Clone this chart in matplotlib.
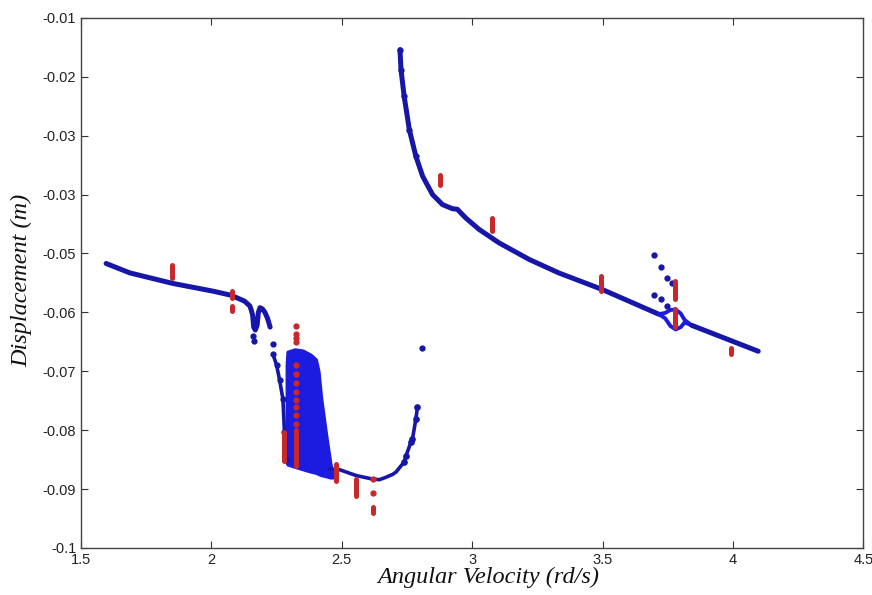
import matplotlib
matplotlib.use("Agg")
import matplotlib.pyplot as plt
import numpy as np

# ---- data ----
# left branch (dense blue points)
left_x = [1.596, 1.687, 1.853, 2.006, 2.076, 2.127, 2.147, 2.152, 2.158, 2.162, 2.168, 2.175, 2.180, 2.186, 2.195, 2.205, 2.215, 2.225]
left_y = [-0.0517, -0.0533, -0.0551, -0.0564, -0.0571, -0.0581, -0.0589, -0.0595, -0.0605, -0.0625, -0.0630, -0.0622, -0.0600, -0.0592, -0.0594, -0.0600, -0.0610, -0.0625]

# descending strand into the chaotic band
strand_x = [2.236, 2.250, 2.261, 2.274, 2.280, 2.287]
strand_y = [-0.0671, -0.0690, -0.0714, -0.0747, -0.0803, -0.0849]

# chaotic band (outline of the filled blob)
blob_x = [2.289, 2.292, 2.32, 2.35, 2.38, 2.40, 2.41, 2.42, 2.44, 2.455, 2.465]
blob_top = [-0.0690, -0.0667, -0.0663, -0.0665, -0.0672, -0.0680, -0.0700, -0.0745, -0.0810, -0.0855, -0.0877]
blob_bot = [-0.0855, -0.0858, -0.0862, -0.0866, -0.0870, -0.0872, -0.0874, -0.0876, -0.0878, -0.0880, -0.0880]

# bottom "U" after the band
u_x = [2.453, 2.491, 2.555, 2.618, 2.644, 2.669, 2.695, 2.708, 2.739, 2.746, 2.765, 2.771, 2.784, 2.790]
u_y = [-0.0866, -0.0867, -0.0877, -0.0883, -0.0884, -0.0880, -0.0875, -0.0871, -0.0854, -0.0844, -0.0820, -0.0815, -0.0781, -0.0761]

# right branch
right_x = [2.723, 2.727, 2.739, 2.759, 2.784, 2.810, 2.848, 2.886, 2.924, 2.943, 2.976, 3.026, 3.103, 3.218, 3.332, 3.498, 3.715]
right_y = [-0.0154, -0.0188, -0.0233, -0.0290, -0.0335, -0.0369, -0.0400, -0.0417, -0.0424, -0.0425, -0.0440, -0.0459, -0.0482, -0.0510, -0.0533, -0.0561, -0.0603]

# small loop near 3.78
loop_x = [3.715, 3.74, 3.76, 3.78, 3.80, 3.815, 3.842]
loop_up = [-0.0603, -0.0601, -0.0596, -0.0595, -0.0602, -0.0613, -0.0622]
loop_lo = [-0.0603, -0.0610, -0.0623, -0.0629, -0.0625, -0.0617, -0.0622]

tail_x = [3.842, 4.097]
tail_y = [-0.0622, -0.0666]

# isolated blue points
blue_dot_x = [2.160, 2.162, 2.236, 2.806, 3.698, 3.725, 3.747, 3.766, 3.698, 3.725, 3.747]
blue_dot_y = [-0.0640, -0.0649, -0.0653, -0.0661, -0.0503, -0.0523, -0.0541, -0.0550, -0.0571, -0.0578, -0.0589]

# red streaks (x, low, high)
red_seg_x = [1.847, 2.080, 2.080, 2.280, 2.325, 2.478, 2.555, 2.618, 2.876, 3.077, 3.494, 3.776, 3.776, 3.992]
red_seg_lo = [-0.0541, -0.0575, -0.0598, -0.0852, -0.0860, -0.0886, -0.0911, -0.0940, -0.0383, -0.0462, -0.0564, -0.0578, -0.0625, -0.0671]
red_seg_hi = [-0.0519, -0.0564, -0.0589, -0.0803, -0.0800, -0.0858, -0.0883, -0.0931, -0.0366, -0.0439, -0.0538, -0.0547, -0.0595, -0.0660]

# isolated red points
red_dot_x = [2.325, 2.325, 2.325, 2.325, 2.325, 2.325, 2.325, 2.325, 2.325, 2.325, 2.325, 2.325, 2.618, 2.618]
red_dot_y = [-0.0623, -0.0637, -0.0643, -0.0651, -0.0690, -0.0705, -0.0720, -0.0735, -0.0748, -0.0760, -0.0775, -0.0790, -0.0883, -0.0906]

xticks = [1.5, 2, 2.5, 3, 3.5, 4, 4.5]
xtick_labels = ['1.5', '2', '2.5', '3', '3.5', '4', '4.5']
yticks = [-0.1, -0.09, -0.08, -0.07, -0.06, -0.05, -0.04, -0.03, -0.02, -0.01]
ytick_labels = ['-0.1', '-0.09', '-0.08', '-0.07', '-0.06', '-0.05', '-0.03', '-0.03', '-0.02', '-0.01']

curve_col = '#1616a8'
blob_col = '#1c1ce0'
red_col = '#c8282a'

fig = plt.figure(figsize=(8.72, 5.95), dpi=100)
ax = fig.add_axes([0.093, 0.079, 0.897, 0.891])

lw = 3.6
ax.plot(left_x, left_y, color=curve_col, lw=lw, solid_capstyle='round')
ax.plot(strand_x, strand_y, color=curve_col, lw=2.6, solid_capstyle='round')
ax.plot(strand_x, strand_y, 'o', color=curve_col, ms=3.5)
ax.fill_between(blob_x, blob_top, blob_bot, color=blob_col, lw=2.5, edgecolor=blob_col)
ax.plot(u_x, u_y, color=curve_col, lw=2.6, solid_capstyle='round')
ax.plot(u_x[8:], u_y[8:], 'o', color=curve_col, ms=3.8)
ax.plot(right_x, right_y, color=curve_col, lw=lw, solid_capstyle='round')
ax.plot(right_x[:5], right_y[:5], 'o', color=curve_col, ms=3.5)
ax.plot(loop_x, loop_up, color=blob_col, lw=2.8, solid_capstyle='round')
ax.plot(loop_x, loop_lo, color=blob_col, lw=2.8, solid_capstyle='round')
ax.plot(tail_x, tail_y, color=curve_col, lw=lw, solid_capstyle='round')
ax.plot(blue_dot_x, blue_dot_y, 'o', color=curve_col, ms=3.5, ls='none')

ax.vlines(red_seg_x, red_seg_lo, red_seg_hi, color=red_col, lw=3.6, capstyle='round', zorder=4)
ax.plot(red_dot_x, red_dot_y, 'o', color=red_col, ms=3.5, ls='none', zorder=4)

ax.set_xlim(1.5, 4.5)
ax.set_ylim(-0.1, -0.01)
ax.set_xticks(xticks)
ax.set_xticklabels(xtick_labels)
ax.set_yticks(yticks)
ax.set_yticklabels(ytick_labels)
ax.tick_params(direction='in', length=5, width=0.8, top=True, right=True,
               colors='#333333', labelcolor='#222222', labelsize=10.5)
for lab in ax.get_xticklabels() + ax.get_yticklabels():
    lab.set_family(['Liberation Sans Narrow', 'Liberation Sans'])
for sp in ax.spines.values():
    sp.set_color('#444444')
    sp.set_linewidth(1.0)

ax.set_xlabel('Angular Velocity (rd/s)', family='Liberation Serif', style='italic',
              fontsize=17.5, color='#111111')
ax.xaxis.set_label_coords(0.52, -0.036)
ax.set_ylabel('Displacement (m)', family='Liberation Serif', style='italic',
              fontsize=17.5, color='#111111')
ax.yaxis.set_label_coords(-0.063, 0.505)

fig.savefig('out.png', dpi=100)
